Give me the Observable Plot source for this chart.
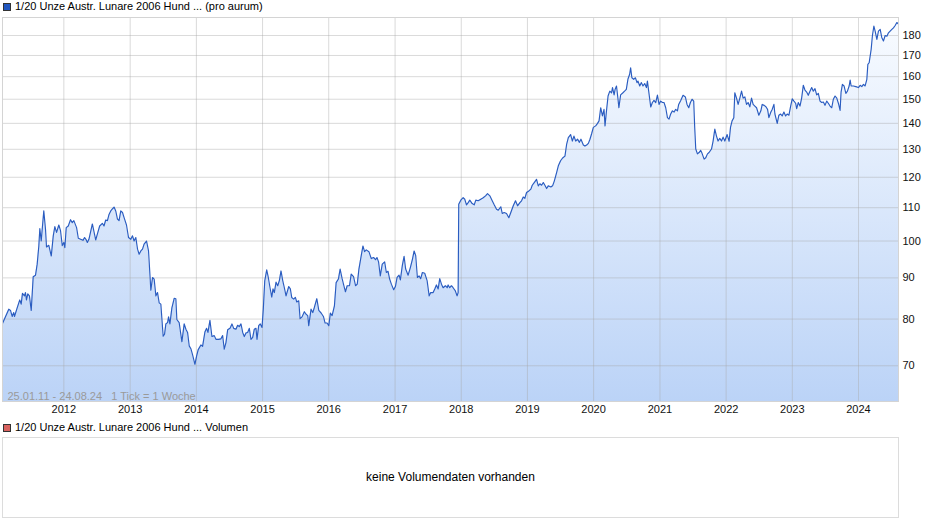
<!DOCTYPE html>
<html><head><meta charset="utf-8">
<script src="https://cdn.jsdelivr.net/npm/d3@7"></script>
<script src="https://cdn.jsdelivr.net/npm/@observablehq/plot@0.6"></script>
<style>
body{margin:0;background:#fff;font-family:"Liberation Sans",Arial,sans-serif;}
#wrap{position:relative;width:940px;height:526px;overflow:hidden;background:#fff}
.txt{position:absolute;font-size:11px;line-height:13px;color:#000;white-space:nowrap}
.sq{position:absolute;width:8px;height:8px;box-sizing:border-box;border:1px solid #333}
#chart{position:absolute;left:0;top:0}
#vol{position:absolute;left:2px;top:437px;width:897px;height:81px;box-sizing:border-box;border:1px solid #dcdcdc;font-size:12px;color:#000;text-align:center;line-height:79px}
</style></head>
<body><div id="wrap">
<div class="sq" style="left:3px;top:3px;background:#2257c0"></div>
<div class="txt" id="leg1" style="left:15px;top:0px"></div>
<div id="chart"></div>
<div class="sq" style="left:3px;top:424px;background:#d9625f"></div>
<div class="txt" id="leg2" style="left:15px;top:421px"></div>
<div id="vol"></div>
</div>
<script>
const seriesTitle = "1/20 Unze Austr. Lunare 2006 Hund ... (pro aurum)";
const volumeTitle = "1/20 Unze Austr. Lunare 2006 Hund ... Volumen";
const volumeMessage = "keine Volumendaten vorhanden";
const rangeLabel = "25.01.11 - 24.08.24\u00a0\u00a0 1 Tick = 1 Woche";
const yearTicks = [2012,2013,2014,2015,2016,2017,2018,2019,2020,2021,2022,2023,2024];
const priceTicks = [70,80,90,100,110,120,130,140,150,160,170,180];
const priceDomain = [63.2, 189.5];
const timeDomain = [2011.073, 2024.603];
// [decimal year, price]
const priceSeries = [
[2011.073,79.0],[2011.168,82.3],[2011.194,82.0],[2011.219,80.6],[2011.243,81.5],[2011.254,80.6],[2011.295,82.6],[2011.334,84.5],[2011.355,83.5],[2011.375,86.1],
[2011.405,85.5],[2011.42,86.3],[2011.435,84.5],[2011.455,86.0],[2011.48,85.5],[2011.507,82.0],[2011.537,90.3],[2011.572,90.7],[2011.597,93.6],[2011.622,98.6],
[2011.637,103.6],[2011.658,100.0],[2011.697,109.0],[2011.723,103.4],[2011.738,98.3],[2011.773,98.8],[2011.81,95.8],[2011.84,101.5],[2011.864,104.2],[2011.89,102.5],
[2011.924,104.7],[2011.95,103.0],[2011.976,98.7],[2012.0,99.6],[2012.015,98.1],[2012.036,103.9],[2012.067,104.4],[2012.101,106.3],[2012.127,105.4],[2012.151,106.0],
[2012.192,103.9],[2012.218,100.8],[2012.253,100.5],[2012.288,100.2],[2012.313,101.0],[2012.333,100.5],[2012.354,99.6],[2012.378,100.5],[2012.43,105.0],[2012.454,102.7],
[2012.48,100.3],[2012.505,102.0],[2012.54,104.4],[2012.581,105.2],[2012.605,104.4],[2012.631,106.2],[2012.657,106.0],[2012.681,107.9],[2012.707,109.0],[2012.732,109.6],
[2012.757,110.2],[2012.782,109.0],[2012.808,106.5],[2012.832,106.0],[2012.858,109.0],[2012.884,108.5],[2012.908,106.9],[2012.944,104.7],[2012.975,101.0],[2013.009,100.5],
[2013.035,101.5],[2013.059,100.0],[2013.085,101.0],[2013.111,97.7],[2013.135,96.3],[2013.161,97.2],[2013.186,97.7],[2013.21,99.1],[2013.247,100.0],[2013.277,97.2],
[2013.312,86.9],[2013.338,90.1],[2013.362,89.7],[2013.388,85.5],[2013.413,86.3],[2013.438,83.8],[2013.463,83.5],[2013.498,76.2],[2013.519,76.6],[2013.539,78.9],
[2013.565,79.2],[2013.58,80.5],[2013.6,78.9],[2013.63,82.6],[2013.665,84.9],[2013.69,84.8],[2013.705,79.9],[2013.74,79.2],[2013.781,75.0],[2013.816,78.9],
[2013.842,77.7],[2013.867,77.0],[2013.892,74.1],[2013.917,73.5],[2013.943,72.2],[2013.978,70.3],[2014.004,72.0],[2014.028,73.3],[2014.069,74.3],[2014.094,74.0],
[2014.129,77.1],[2014.155,77.9],[2014.175,77.0],[2014.205,79.7],[2014.235,76.1],[2014.27,76.3],[2014.296,75.5],[2014.337,75.5],[2014.371,75.6],[2014.397,76.3],
[2014.421,73.4],[2014.447,74.8],[2014.473,77.6],[2014.508,77.9],[2014.538,78.9],[2014.564,77.9],[2014.598,77.7],[2014.624,78.6],[2014.648,78.3],[2014.674,78.9],
[2014.7,77.0],[2014.724,76.1],[2014.75,76.9],[2014.775,77.0],[2014.8,77.9],[2014.825,75.5],[2014.851,75.9],[2014.875,77.7],[2014.901,77.9],[2014.916,75.5],
[2014.942,78.5],[2014.966,78.9],[2014.992,78.1],[2015.011,82.2],[2015.033,89.2],[2015.063,92.1],[2015.087,90.1],[2015.113,87.5],[2015.139,85.2],[2015.158,87.2],
[2015.178,86.3],[2015.204,88.9],[2015.229,88.0],[2015.254,89.3],[2015.279,91.8],[2015.305,89.3],[2015.329,87.5],[2015.355,85.5],[2015.396,87.8],[2015.42,87.2],
[2015.441,85.1],[2015.471,84.7],[2015.496,85.1],[2015.517,84.0],[2015.547,84.3],[2015.567,80.1],[2015.597,80.5],[2015.632,81.7],[2015.658,81.1],[2015.683,80.8],
[2015.698,78.5],[2015.733,82.3],[2015.759,81.5],[2015.783,82.7],[2015.82,84.8],[2015.85,82.0],[2015.885,81.4],[2015.92,80.6],[2015.945,79.1],[2015.975,79.1],
[2016.001,78.5],[2016.025,81.4],[2016.051,80.8],[2016.086,83.1],[2016.112,88.8],[2016.146,89.7],[2016.172,92.3],[2016.202,89.8],[2016.228,88.0],[2016.252,86.5],
[2016.278,88.0],[2016.313,88.0],[2016.339,91.0],[2016.374,90.3],[2016.404,88.0],[2016.43,88.4],[2016.455,92.3],[2016.49,95.9],[2016.516,98.6],[2016.54,97.0],
[2016.566,97.5],[2016.606,97.0],[2016.641,95.1],[2016.676,95.4],[2016.706,94.8],[2016.727,95.4],[2016.751,94.2],[2016.777,90.5],[2016.807,93.6],[2016.843,94.2],
[2016.868,91.4],[2016.894,91.7],[2016.918,89.7],[2016.944,88.4],[2016.979,87.0],[2017.005,87.8],[2017.03,90.1],[2017.06,90.7],[2017.08,89.5],[2017.11,93.3],
[2017.136,95.7],[2017.16,92.3],[2017.197,90.7],[2017.231,92.7],[2017.262,94.9],[2017.288,97.2],[2017.312,95.9],[2017.337,90.1],[2017.363,90.5],[2017.387,89.8],
[2017.413,91.4],[2017.448,91.2],[2017.484,89.3],[2017.515,85.5],[2017.539,86.3],[2017.575,86.3],[2017.6,87.2],[2017.625,88.2],[2017.651,87.2],[2017.675,89.8],
[2017.701,88.4],[2017.726,87.5],[2017.761,88.0],[2017.787,87.5],[2017.802,88.2],[2017.826,87.5],[2017.852,88.0],[2017.877,87.5],[2017.911,86.7],[2017.937,85.5],
[2017.953,86.3],[2017.962,111.1],[2017.993,112.4],[2018.029,113.2],[2018.053,112.7],[2018.079,110.9],[2018.105,111.6],[2018.129,112.4],[2018.165,111.3],[2018.196,110.9],
[2018.22,112.4],[2018.256,112.2],[2018.295,112.7],[2018.332,113.2],[2018.367,113.8],[2018.397,114.5],[2018.432,113.8],[2018.468,112.2],[2018.498,110.9],[2018.533,109.5],
[2018.559,109.2],[2018.598,110.3],[2018.619,108.2],[2018.649,108.5],[2018.684,108.2],[2018.719,106.9],[2018.749,108.5],[2018.786,110.6],[2018.82,112.2],[2018.851,110.6],
[2018.886,111.6],[2018.911,112.2],[2018.937,113.4],[2018.961,113.0],[2018.987,114.9],[2019.022,115.4],[2019.052,116.0],[2019.073,117.3],[2019.103,118.2],[2019.138,119.3],
[2019.164,117.1],[2019.188,117.8],[2019.214,117.3],[2019.24,118.2],[2019.264,117.3],[2019.29,116.2],[2019.315,117.1],[2019.354,116.7],[2019.38,117.1],[2019.406,118.7],
[2019.441,121.6],[2019.467,124.0],[2019.501,125.8],[2019.532,126.8],[2019.567,127.5],[2019.592,131.8],[2019.618,134.4],[2019.653,135.6],[2019.679,133.1],[2019.703,135.0],
[2019.729,133.1],[2019.759,133.8],[2019.785,132.6],[2019.809,133.8],[2019.845,131.6],[2019.869,131.2],[2019.895,131.6],[2019.921,132.2],[2019.945,133.8],[2019.97,135.9],
[2019.996,138.4],[2020.031,139.0],[2020.057,139.9],[2020.082,141.0],[2020.107,146.4],[2020.133,143.0],[2020.157,145.7],[2020.172,139.0],[2020.194,145.1],[2020.218,151.4],
[2020.244,153.5],[2020.27,152.8],[2020.285,155.1],[2020.309,151.9],[2020.324,154.3],[2020.345,155.8],[2020.366,150.5],[2020.381,146.4],[2020.407,151.9],[2020.442,152.8],
[2020.467,153.5],[2020.493,154.3],[2020.517,158.8],[2020.543,161.1],[2020.558,164.1],[2020.577,159.5],[2020.604,158.8],[2020.63,159.5],[2020.654,157.3],[2020.669,158.0],
[2020.695,155.8],[2020.72,157.3],[2020.744,155.8],[2020.77,156.9],[2020.796,155.1],[2020.811,158.0],[2020.83,153.5],[2020.861,146.7],[2020.886,148.6],[2020.91,149.5],
[2020.936,148.6],[2020.962,151.8],[2020.986,147.8],[2021.011,149.2],[2021.037,148.6],[2021.061,148.6],[2021.087,146.4],[2021.113,142.3],[2021.137,141.7],[2021.162,143.8],
[2021.188,145.1],[2021.213,144.6],[2021.238,145.7],[2021.264,145.1],[2021.283,147.8],[2021.314,149.5],[2021.349,151.7],[2021.384,151.0],[2021.409,147.8],[2021.435,146.4],
[2021.46,148.6],[2021.485,150.0],[2021.51,149.2],[2021.525,138.4],[2021.541,130.1],[2021.566,128.3],[2021.591,128.8],[2021.616,129.6],[2021.636,128.5],[2021.667,126.4],
[2021.692,126.9],[2021.718,128.3],[2021.742,128.8],[2021.779,130.1],[2021.803,133.1],[2021.829,137.7],[2021.854,135.0],[2021.878,133.1],[2021.904,134.1],[2021.93,133.1],
[2021.954,134.6],[2021.98,133.1],[2022.015,135.6],[2022.045,133.0],[2022.066,138.4],[2022.09,141.0],[2022.116,142.3],[2022.131,152.8],[2022.157,150.5],[2022.181,147.8],
[2022.207,150.5],[2022.233,153.5],[2022.257,150.5],[2022.283,151.0],[2022.308,147.8],[2022.332,148.6],[2022.358,146.8],[2022.384,150.5],[2022.408,147.8],[2022.434,147.1],
[2022.46,146.4],[2022.494,143.3],[2022.525,145.1],[2022.545,147.8],[2022.575,147.4],[2022.601,146.8],[2022.626,145.7],[2022.646,142.3],[2022.676,144.6],[2022.696,145.7],
[2022.722,147.8],[2022.737,143.8],[2022.772,140.0],[2022.797,143.3],[2022.823,143.8],[2022.847,143.0],[2022.873,144.6],[2022.899,143.0],[2022.923,143.8],[2022.949,143.3],
[2022.975,147.1],[2022.999,150.2],[2023.025,149.2],[2023.05,148.3],[2023.066,146.0],[2023.09,148.6],[2023.116,147.1],[2023.141,150.5],[2023.166,156.1],[2023.191,154.0],
[2023.217,153.1],[2023.241,151.7],[2023.267,153.5],[2023.293,155.1],[2023.317,153.5],[2023.343,154.6],[2023.368,151.9],[2023.393,152.5],[2023.419,149.2],[2023.444,148.6],
[2023.469,148.8],[2023.494,147.4],[2023.52,149.2],[2023.544,148.3],[2023.57,147.1],[2023.596,146.4],[2023.62,150.0],[2023.646,151.4],[2023.672,150.5],[2023.696,148.3],
[2023.722,145.3],[2023.737,153.1],[2023.757,156.5],[2023.782,155.8],[2023.809,152.5],[2023.833,153.5],[2023.859,155.8],[2023.874,158.4],[2023.889,155.8],[2023.923,155.8],
[2023.96,155.5],[2023.999,155.1],[2024.025,156.1],[2024.05,155.5],[2024.075,156.5],[2024.1,155.8],[2024.126,158.8],[2024.141,165.7],[2024.161,166.5],[2024.191,173.0],
[2024.21,180.0],[2024.232,184.9],[2024.251,182.3],[2024.277,178.0],[2024.301,182.3],[2024.327,183.2],[2024.352,178.8],[2024.376,177.2],[2024.402,180.0],[2024.428,179.6],
[2024.452,181.4],[2024.477,182.3],[2024.503,183.2],[2024.527,184.0],[2024.553,185.2],[2024.578,186.8],[2024.603,185.9]
];

function toDate(t) {
  const y = Math.floor(t);
  const a = Date.UTC(y, 0, 1), b = Date.UTC(y + 1, 0, 1);
  return new Date(a + (t - y) * (b - a));
}
const data = priceSeries.map(([t, v]) => ({date: toDate(t), price: v}));
const yearDates = yearTicks.map(y => new Date(Date.UTC(y, 0, 1)));

document.getElementById("leg1").textContent = seriesTitle;
document.getElementById("leg2").textContent = volumeTitle;
document.getElementById("vol").textContent = volumeMessage;

const gradientDefs = () => {
  const defs = d3.create("svg:defs");
  const g = defs.append("linearGradient").attr("id", "areaGrad")
    .attr("x1", 0).attr("y1", 0).attr("x2", 0).attr("y2", 1);
  g.append("stop").attr("offset", "0%").attr("stop-color", "#f8fbff");
  g.append("stop").attr("offset", "100%").attr("stop-color", "#bbd3f7");
  return defs.node();
};

const chart = Plot.plot({
  width: 940,
  height: 420,
  marginTop: 17,
  marginBottom: 19,
  marginLeft: 2,
  marginRight: 42,
  style: {fontFamily: '"Liberation Sans", Arial, sans-serif', fontSize: "11px", color: "#222", background: "transparent", overflow: "visible"},
  x: {type: "utc", domain: timeDomain.map(toDate)},
  y: {type: "log", domain: priceDomain, axis: null},
  marks: [
    gradientDefs,
    Plot.areaY(data, {x: "date", y1: priceDomain[0], y2: "price", fill: "url(#areaGrad)"}),
    Plot.gridX(yearDates, {stroke: "#a8a8a8", strokeOpacity: 0.42}),
    Plot.gridY(priceTicks, {stroke: "#a8a8a8", strokeOpacity: 0.42}),
    Plot.lineY(data, {x: "date", y: "price", stroke: "#2a5cc0", strokeWidth: 1.15}),
    Plot.frame({stroke: "#d4d4d4"}),
    Plot.axisX({ticks: yearDates, tickFormat: d3.utcFormat("%Y"), tickSize: 0, tickPadding: 4, label: null, fill: "#111"}),
    Plot.text(priceTicks, {y: d => d, text: d => String(d), frameAnchor: "right", textAnchor: "start", dx: 4, fill: "#111", fontSize: 11}),
    Plot.text([rangeLabel], {frameAnchor: "bottom-left", dx: 5, dy: -2, fill: "#9a9a9a", fontSize: 11})
  ]
});
document.getElementById("chart").appendChild(chart);
</script>
</body></html>
